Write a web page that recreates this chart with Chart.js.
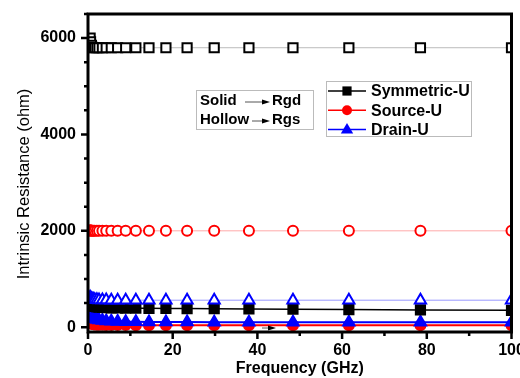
<!DOCTYPE html>
<html>
<head>
<meta charset="utf-8">
<script src="https://cdn.jsdelivr.net/npm/chart.js@4.4.0/dist/chart.umd.min.js"></script>
<style>
  html, body { margin: 0; padding: 0; background: #fff; }
  #wrap { width: 520px; height: 378px; position: relative; }
</style>
</head>
<body>
<div id="wrap"><canvas id="chart"></canvas></div>
<script>
// Intrinsic resistance vs frequency for three U-shaped variants
const freqs = [0.5, 0.6, 0.8, 1.0, 1.3, 1.6, 2.1, 2.6, 3.4, 4.3, 5.5, 7.0, 8.9, 11.3, 14.4, 18.4, 23.4, 29.8, 38.0, 48.4, 61.6, 78.5, 100];

// solid markers -> Rgd
const symRgd = [520, 500, 480, 460, 445, 432, 422, 414, 408, 404, 401, 399, 397, 395, 392, 390, 386, 382, 378, 372, 365, 358, 350];
const srcRgd = [100, 85, 75, 68, 62, 57, 53, 50, 48, 46, 45, 44, 43, 42, 42, 41, 41, 40, 40, 40, 40, 40, 40];
const drnRgd = [300, 260, 230, 210, 190, 175, 160, 150, 140, 130, 125, 120, 115, 112, 110, 108, 105, 104, 103, 102, 101, 100, 100];

// hollow markers -> Rgs
const symRgs = [6000, 5920, 5850, 5810, 5800, 5800, 5800, 5800, 5800, 5800, 5800, 5800, 5800, 5800, 5800, 5800, 5800, 5800, 5800, 5800, 5800, 5800, 5800];
const srcRgs = [2010, 2005, 2000, 2000, 2000, 2000, 2000, 2000, 2000, 2000, 2000, 2000, 2000, 2000, 2000, 2000, 2000, 2000, 2000, 2000, 2000, 2000, 2000];
const drnRgs = [620, 600, 590, 580, 575, 570, 568, 565, 563, 562, 561, 560, 560, 560, 560, 560, 560, 560, 560, 560, 560, 560, 560];

const xTicks = [0, 20, 40, 60, 80, 100];
const xMinor = [10, 30, 50, 70, 90];
const yTicks = [0, 2000, 4000, 6000];
const yMinor = [500, 1000, 1500, 2500, 3000, 3500, 4500, 5000, 5500, 6500];

const legendNames = ["Symmetric-U", "Source-U", "Drain-U"];
const FONT = "'Liberation Sans', Arial, sans-serif";

function pts(ys) {
  return freqs.map((f, i) => ({ x: f, y: ys[i] }));
}

function series(label, ys, color, lineColor, style, radius, hollow, lw) {
  return {
    label,
    data: pts(ys),
    borderColor: lineColor,
    borderWidth: lw,
    pointStyle: style,
    pointRadius: radius,
    pointBorderColor: color,
    pointBackgroundColor: hollow ? "#fff" : color,
    pointBorderWidth: 2,
    tension: 0,
    clip: 0,
  };
}

const datasets = [
  series("Symmetric-U Rgs", symRgs, "#000", "#bbb", "rect", 6.5, true, 1),
  series("Source-U Rgs", srcRgs, "#f00", "#ffaaaa", "circle", 5, true, 1),
  series("Drain-U Rgs", drnRgs, "#00f", "#9999ff", "triangle", 6.5, true, 1),
  series("Symmetric-U Rgd", symRgd, "#000", "#000", "rect", 6.5, false, 1.5),
  series("Drain-U Rgd", drnRgd, "#00f", "#00f", "triangle", 6.5, false, 2),
  series("Source-U Rgd", srcRgd, "#f00", "#f00", "circle", 5, false, 2),
];

// marker shapes used in the legend box
function marker(ctx, style, x, y, r, color) {
  ctx.fillStyle = color;
  ctx.beginPath();
  if (style === "rect") {
    const s = r * Math.SQRT1_2;
    ctx.rect(x - s, y - s, 2 * s, 2 * s);
  } else if (style === "circle") {
    ctx.arc(x, y, r, 0, Math.PI * 2);
  } else {
    ctx.moveTo(x, y - r);
    ctx.lineTo(x + r * 0.95, y + r * 0.6);
    ctx.lineTo(x - r * 0.95, y + r * 0.6);
    ctx.closePath();
  }
  ctx.fill();
}

function arrow(ctx, x1, x2, y) {
  ctx.strokeStyle = "#555";
  ctx.lineWidth = 1;
  ctx.beginPath();
  ctx.moveTo(x1, y);
  ctx.lineTo(x2 - 6, y);
  ctx.stroke();
  ctx.fillStyle = "#000";
  ctx.beginPath();
  ctx.moveTo(x2, y);
  ctx.lineTo(x2 - 8, y - 2.5);
  ctx.lineTo(x2 - 8, y + 2.5);
  ctx.closePath();
  ctx.fill();
}

const framePlugin = {
  id: "frame",
  afterDatasetsDraw(chart) {
    const { ctx, chartArea: a, scales } = chart;
    const xs = scales.x, ys = scales.y;
    ctx.save();
    ctx.strokeStyle = "#000";
    ctx.lineWidth = 3;
    ctx.strokeRect(a.left, a.top, a.right - a.left, a.bottom - a.top);

    // outward tick marks
    ctx.lineWidth = 2.5;
    ctx.beginPath();
    xTicks.forEach((v) => {
      const px = xs.getPixelForValue(v);
      ctx.moveTo(px, a.bottom); ctx.lineTo(px, a.bottom + 7);
    });
    xMinor.forEach((v) => {
      const px = xs.getPixelForValue(v);
      ctx.moveTo(px, a.bottom); ctx.lineTo(px, a.bottom + 4);
    });
    yTicks.forEach((v) => {
      const py = ys.getPixelForValue(v);
      ctx.moveTo(a.left, py); ctx.lineTo(a.left - 7, py);
    });
    yMinor.forEach((v) => {
      const py = ys.getPixelForValue(v);
      ctx.moveTo(a.left, py); ctx.lineTo(a.left - 4, py);
    });
    ctx.stroke();

    // small pointer near the bottom traces
    arrow(ctx, 262, 276, 328);

    // y axis title, set a little below the plot centre
    ctx.save();
    ctx.translate(24, 184);
    ctx.rotate(-Math.PI / 2);
    ctx.fillStyle = "#000";
    ctx.font = "16.5px " + FONT;
    ctx.textAlign = "center";
    ctx.textBaseline = "middle";
    ctx.fillText("Intrinsic Resistance (ohm)", 0, 0);
    ctx.restore();

    // Solid / Hollow key
    ctx.strokeStyle = "#bbb";
    ctx.lineWidth = 1;
    ctx.strokeRect(196.5, 90.5, 117, 39);
    ctx.fillStyle = "#000";
    ctx.font = "bold 15px " + FONT;
    ctx.textBaseline = "middle";
    ctx.textAlign = "left";
    ctx.fillText("Solid", 200, 101);
    ctx.fillText("Hollow", 200, 120);
    ctx.fillText("Rgd", 272, 101);
    ctx.fillText("Rgs", 272, 120);
    arrow(ctx, 245, 270, 102);
    arrow(ctx, 252, 270, 121);

    // series legend
    ctx.strokeStyle = "#bbb";
    ctx.strokeRect(326.5, 81.5, 145, 55);
    const rows = [
      { name: legendNames[0], color: "#000", style: "rect" },
      { name: legendNames[1], color: "#f00", style: "circle" },
      { name: legendNames[2], color: "#00f", style: "triangle" },
    ];
    rows.forEach((r, i) => {
      const y = 91 + i * 19.3;
      ctx.strokeStyle = r.color;
      ctx.lineWidth = 1.5;
      ctx.beginPath();
      ctx.moveTo(328, y); ctx.lineTo(366, y);
      ctx.stroke();
      marker(ctx, r.style, 347, y, r.style === "circle" ? 5 : 6.5, r.color);
      ctx.fillStyle = "#000";
      ctx.font = "bold 16px " + FONT;
      ctx.fillText(r.name, 371, y + 1);
    });
    ctx.restore();
  },
};

new Chart(document.getElementById("chart"), {
  type: "line",
  data: { datasets },
  plugins: [framePlugin],
  options: {
    responsive: true,
    maintainAspectRatio: false,
    animation: false,
    events: [],
    layout: { padding: { left: 0, top: 14, right: 8, bottom: 0 } },
    plugins: { legend: { display: false }, tooltip: { enabled: false } },
    scales: {
      x: {
        type: "linear",
        min: 0,
        max: 100,
        afterBuildTicks: (s) => { s.ticks = xTicks.map((v) => ({ value: v })); },
        afterFit: (s) => { s.height = 46; s.paddingLeft = 0; s.paddingRight = 0; },
        grid: { display: false, drawTicks: false },
        border: { display: false },
        ticks: {
          color: "#000",
          padding: 9,
          maxRotation: 0,
          callback: (v) => String(v),
          font: { family: FONT, size: 16, weight: "bold" },
        },
        title: {
          display: true,
          text: "Frequency (GHz)",
          color: "#000",
          padding: { top: 0, bottom: 0 },
          font: { family: FONT, size: 16, weight: "bold" },
        },
      },
      y: {
        type: "linear",
        min: -100,
        max: 6500,
        afterBuildTicks: (s) => { s.ticks = yTicks.map((v) => ({ value: v })); },
        afterFit: (s) => { s.width = 88; s.paddingTop = 0; s.paddingBottom = 0; },
        grid: { display: false, drawTicks: false },
        border: { display: false },
        ticks: {
          color: "#000",
          padding: 12,
          callback: (v) => String(v),
          font: { family: FONT, size: 16, weight: "bold" },
        },
        title: { display: false },
      },
    },
  },
});
</script>
</body>
</html>
